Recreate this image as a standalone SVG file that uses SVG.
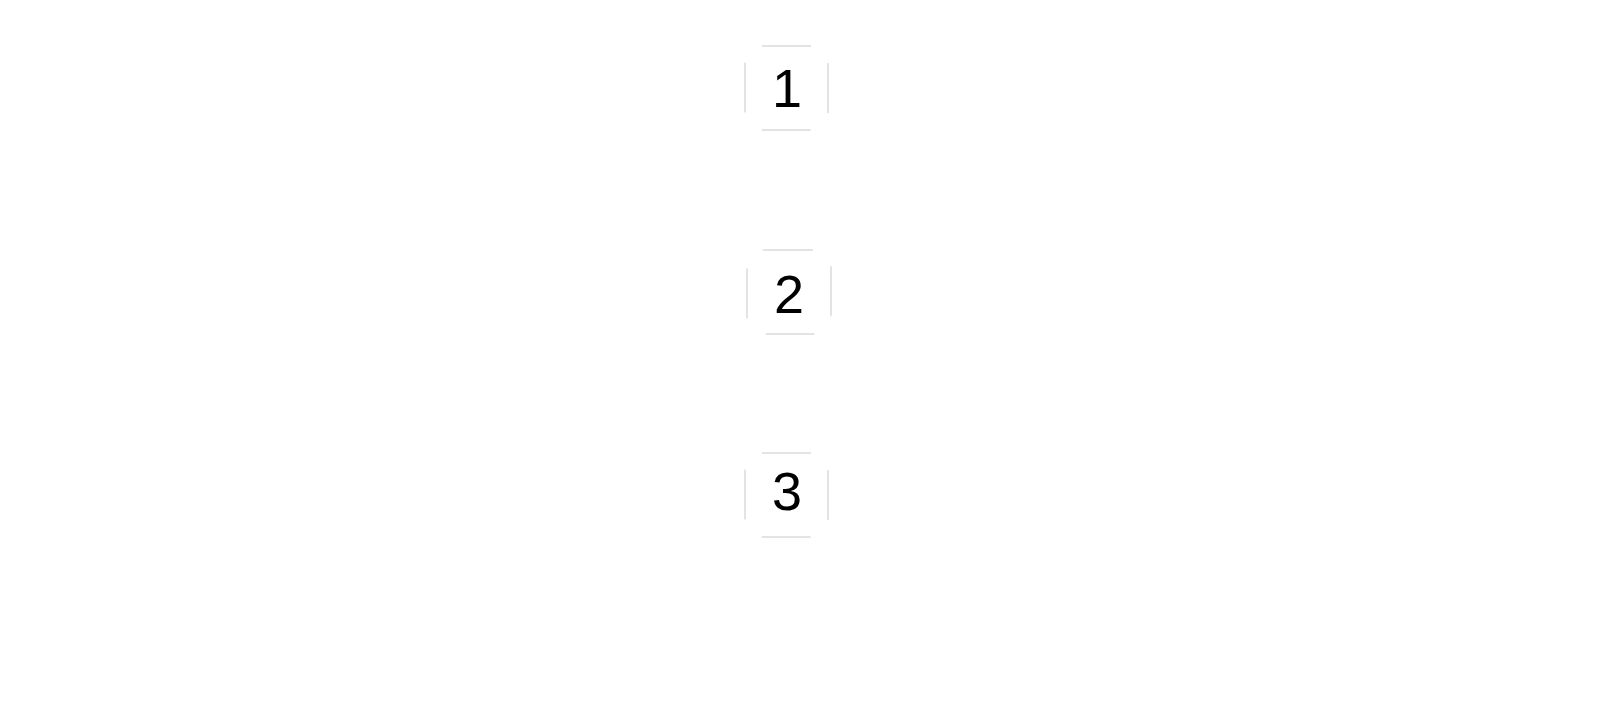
<svg xmlns="http://www.w3.org/2000/svg" width="1600" height="720" viewBox="0 0 1600 720">
  <style>
    .box { fill: #ffffff; stroke: #c8c8c8; stroke-width: 1; stroke-dasharray: 49 26.7 50 26.7 49 26.7 50 26.7; }
    .lbl { font-family: "Liberation Sans", Arial, sans-serif; font-size: 54px; fill: #000000; text-anchor: middle; }
  </style>
  <rect width="1600" height="720" fill="#ffffff"/>
  <g id="connectors"></g>
  <g id="node1">
    <rect class="box" x="745" y="46" width="83" height="84" rx="17" ry="17"/>
    <text class="lbl" x="787" y="107">1</text>
  </g>
  <g id="node2">
    <rect class="box" x="747" y="250" width="84" height="84" rx="17" ry="17"/>
    <text class="lbl" x="789" y="313">2</text>
  </g>
  <g id="node3">
    <rect class="box" x="745" y="453" width="83" height="84" rx="17" ry="17"/>
    <text class="lbl" x="787" y="510">3</text>
  </g>
</svg>
